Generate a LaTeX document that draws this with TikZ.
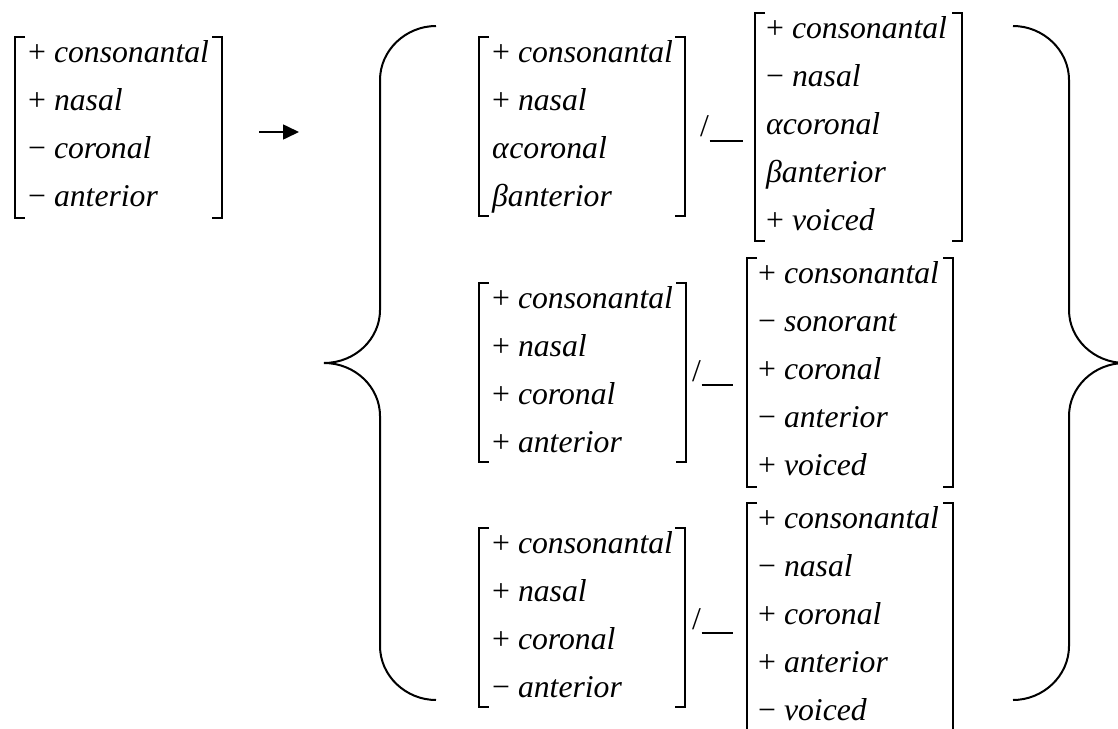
\documentclass[tikz,border=0pt]{standalone}
\usepackage{fontspec}
\setmainfont{Liberation Serif}
\usetikzlibrary{arrows.meta}
\newcommand\plusf[1]{+ \textit{#1}}
\newcommand\minusf[1]{− \textit{#1}}
\newcommand\featmat[7]{%
  \draw[brk] (#2+10,#4) -- (#2,#4) -- (#2,#5) -- (#2+10,#5);
  \draw[brk] (#3-10,#4) -- (#3,#4) -- (#3,#5) -- (#3-10,#5);
  \foreach \rowtxt [count=\ri] in {#7} {
    \node[rowtext] (#1-\ri) at ({#6},{#4+25.5+(\ri-1)*47.9}) {\rowtxt};
  }%
}
\tikzset{
  brk/.style={line width=1.3pt, line cap=butt},
  rowtext/.style={anchor=base west, inner sep=0pt, font=\fontsize{31.7pt}{38pt}\selectfont},
  slashtext/.style={anchor=base west, inner sep=0pt, font=\fontsize{31.7pt}{38pt}\selectfont},
  usc/.style={line width=1.6pt},
  bracestyle/.style={line width=2pt},
  arrowline/.style={line width=1.6pt, -{Triangle[length=16pt,width=15pt]}}
}
\begin{document}
\begin{tikzpicture}[x=1pt,y=-1pt]
\useasboundingbox (0,0) rectangle (1118,728);
% left matrix
\featmat{L}{15}{222}{37}{218}{28}{\plusf{consonantal},\plusf{nasal},\minusf{coronal},\minusf{anterior}}
% arrow
\coordinate (arrS) at (259,132);
\coordinate (arrE) at (299,132);
\draw[arrowline] (arrS) -- (arrE);
% left brace
\draw[bracestyle] (436,26) .. controls (406,26) and (380,50) .. (380,80) -- (380,310)
  .. controls (380,339) and (355,363) .. (324,363)
  .. controls (355,363) and (380,387) .. (380,416) -- (380,646)
  .. controls (380,676) and (406,700) .. (436,700);
% right brace
\draw[bracestyle] (1013,26) .. controls (1043,26) and (1069,50) .. (1069,80) -- (1069,310)
  .. controls (1069,339) and (1094,363) .. (1125,363)
  .. controls (1094,363) and (1069,387) .. (1069,416) -- (1069,646)
  .. controls (1069,676) and (1043,700) .. (1013,700);
% row 1
\featmat{M1}{479}{685}{37}{216}{492}{\plusf{consonantal},\plusf{nasal},\textit{α}\textit{coronal},\textit{β}\textit{anterior}}
\node[slashtext] (s1) at (700,136) {/};
\draw[usc] ([xshift=0.5pt,yshift=-5pt]s1.base east) -- ++(33,0);
\featmat{R1}{755}{962}{13}{241}{766}{\plusf{consonantal},\minusf{nasal},\textit{αcoronal},\textit{βanterior},\plusf{voiced}}
% row 2
\featmat{M2}{479}{686}{283}{462}{492}{\plusf{consonantal},\plusf{nasal},\plusf{coronal},\plusf{anterior}}
\node[slashtext] (s2) at (692,381) {/};
\draw[usc] ([xshift=0.5pt,yshift=-4pt]s2.base east) -- ++(31,0);
\featmat{R2}{747}{953}{258}{487}{758}{\plusf{consonantal},\minusf{sonorant},\plusf{coronal},\minusf{anterior},\plusf{voiced}}
% row 3
\featmat{M3}{479}{685}{528}{707}{492}{\plusf{consonantal},\plusf{nasal},\plusf{coronal},\minusf{anterior}}
\node[slashtext] (s3) at (692,629) {/};
\draw[usc] ([xshift=0.5pt,yshift=-4pt]s3.base east) -- ++(31,0);
\featmat{R3}{747}{953}{503}{732}{758}{\plusf{consonantal},\minusf{nasal},\plusf{coronal},\plusf{anterior},\minusf{voiced}}
\end{tikzpicture}
\end{document}
